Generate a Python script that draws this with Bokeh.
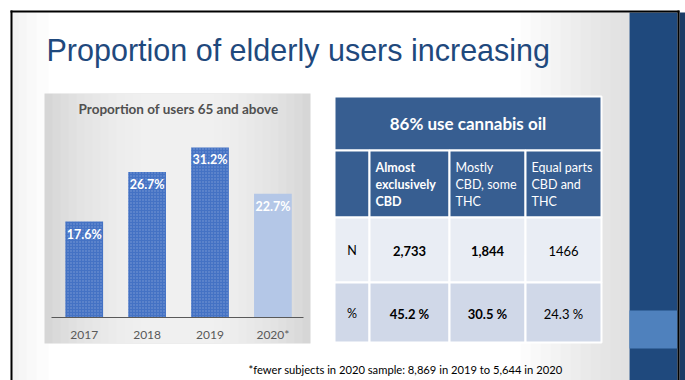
from bokeh.plotting import figure
from bokeh.models import Range1d, ColumnDataSource
from bokeh.core.properties import value
from bokeh.embed import file_html
from bokeh.resources import INLINE

# ---------------- data ----------------
slide_title = "Proportion of elderly users increasing"
chart_title = "Proportion of users 65 and above"
years = ["2017", "2018", "2019", "2020*"]
share_65_plus = [17.6, 26.7, 31.2, 22.7]

table_title = "86% use cannabis oil"
col_headers = [["Almost", "exclusively", "CBD"],
               ["Mostly", "CBD, some", "THC"],
               ["Equal parts", "CBD and", "THC"]]
row_labels = ["N", "%"]
n_labels = ["2,733", "1,844", "1466"]
pct_labels = ["45.2 %", "30.5 %", "24.3 %"]
footnote = "*fewer subjects in 2020 sample: 8,869 in 2019 to 5,644 in 2020"

# ---------------- styles ----------------
FONT = value("Lato")
TITLE_BLUE = "#1F497D"
GRAY_TXT = "#595959"
BAR_BLUE = "#4472C4"
BAR_LIGHT = "#B4C7E7"
HEAD_BLUE = "#375E91"
ROW_N = "#E9EDF4"
ROW_P = "#D0D8E8"

W, H = 685, 380
p = figure(width=W, height=H, x_range=Range1d(0, W), y_range=Range1d(H, 0),
           output_backend="svg", toolbar_location=None, min_border=0,
           x_axis_location=None, y_axis_location=None)
p.grid.visible = False
p.outline_line_color = None
p.background_fill_color = "white"
p.border_fill_color = "white"

# chart scales (category index / percent) mapped onto the chart region
p.extra_x_ranges = {"yr": Range1d(-1.331, 9.56)}
p.extra_y_ranges = {"pct": Range1d(-11.56, 58.17)}

# ---------------- slide background ----------------
for x0 in range(520, 629, 10):
    p.quad(left=x0, right=629, top=12, bottom=H, fill_color="#b0b0b0",
           fill_alpha=0.045, line_color=None)
for x1 in (18, 26, 36, 48):
    p.quad(left=12, right=x1, top=12, bottom=H, fill_color="#b0b0b0",
           fill_alpha=0.04, line_color=None)

# right panel
p.quad(left=629, right=677, top=12, bottom=H, fill_color="#1F497D", line_color=None)
p.quad(left=629, right=677, top=310, bottom=348, fill_color="#4F81BD", line_color=None)
p.quad(left=679, right=W, top=12, bottom=H, fill_color="#1B3C66", line_color=None)

# border lines
p.segment(x0=[10, 11, 678], y0=[11, 10, 10], x1=[679, 11, 678], y1=[11, H, H],
          line_color="black", line_width=2)

# slide title
p.text(x=[46], y=[49], text=[slide_title], text_font=value("Liberation Sans"),
       text_font_size="30.5px", text_color=TITLE_BLUE, text_baseline="alphabetic",
       text_align="left")

# ---------------- bar chart ----------------
p.quad(left=44, right=310, top=93, bottom=343, fill_color="#d6d6d6", line_color=None)
for k in range(1, 13):
    p.quad(left=44 + 8 * k, right=310 - 8 * k, top=93, bottom=343,
           fill_color="white", fill_alpha=0.1, line_color=None)

p.text(x=[178], y=[108], text=[chart_title], text_font=FONT, text_font_style="bold",
       text_font_size="13.5px", text_color="#505050", text_align="center",
       text_baseline="middle")

idx = list(range(len(years)))
src = ColumnDataSource(dict(
    x=idx, top=share_65_plus, year=years,
    lab=[f"{v}%" for v in share_65_plus],
    fill=[BAR_BLUE, BAR_BLUE, BAR_BLUE, BAR_LIGHT],
    halpha=[0.3, 0.3, 0.3, 0.0],
))
p.vbar(x="x", top="top", bottom=0, width=0.6, source=src,
       x_range_name="yr", y_range_name="pct",
       fill_color="fill", line_color=None,
       hatch_pattern="dot", hatch_color="white", hatch_alpha="halpha",
       hatch_scale=3, hatch_weight=1)
p.text(x="x", y="top", text="lab", source=src, x_range_name="yr", y_range_name="pct",
       text_font=FONT, text_font_style="bold", text_font_size="12.5px",
       text_color="white", text_align="center", text_baseline="top", y_offset=5)

# baseline
p.segment(x0=[51], x1=[303], y0=[0], y1=[0], y_range_name="pct",
          line_color="#595959", line_width=1)
# category labels
p.text(x="x", y=334, text="year", source=src, x_range_name="yr",
       text_font=FONT, text_font_size="12px", text_color=GRAY_TXT,
       text_align="center", text_baseline="middle")

# ---------------- table ----------------
col_edges = [334, 369, 449, 525, 601]
p.quad(left=334, right=601, top=96, bottom=150, fill_color=HEAD_BLUE,
       line_color="white", line_width=2)
p.text(x=[467.5], y=[123], text=[table_title], text_font=FONT, text_font_style="bold",
       text_font_size="17px", text_color="white", text_align="center",
       text_baseline="middle")

row_spans = [(150, 217, HEAD_BLUE), (217, 282, ROW_N), (282, 342, ROW_P)]
ql, qr, qt, qb, qc = [], [], [], [], []
for (t, b, c) in row_spans:
    for i in range(4):
        ql.append(col_edges[i]); qr.append(col_edges[i + 1])
        qt.append(t); qb.append(b); qc.append(c)
p.quad(left=ql, right=qr, top=qt, bottom=qb, fill_color=qc,
       line_color="white", line_width=2)

# column headers
for j, lines in enumerate(col_headers):
    for k, line in enumerate(lines):
        p.text(x=[col_edges[j + 1] + 6], y=[167 + 17 * k], text=[line],
               text_font=FONT, text_font_style="bold" if j == 0 else "normal",
               text_font_size="12.5px", text_color="white", text_align="left",
               text_baseline="middle")

centers = [(col_edges[i] + col_edges[i + 1]) / 2 for i in range(4)]
for r, (lab, vals, yy) in enumerate([(row_labels[0], n_labels, 250),
                                      (row_labels[1], pct_labels, 313)]):
    p.text(x=[centers[0]], y=[yy], text=[lab], text_font=FONT, text_font_size="12.5px",
           text_color="black", text_align="center", text_baseline="middle")
    for j, v in enumerate(vals):
        p.text(x=[centers[j + 1]], y=[yy], text=[v], text_font=FONT,
               text_font_style="bold" if j < 2 else "normal",
               text_font_size="13px", text_color="black", text_align="center",
               text_baseline="middle")

# footnote
p.text(x=[248], y=[369], text=[footnote], text_font=FONT, text_font_size="11.2px",
       text_color="black", text_align="left", text_baseline="middle")

open("out.html", "w").write(file_html(p, INLINE))
